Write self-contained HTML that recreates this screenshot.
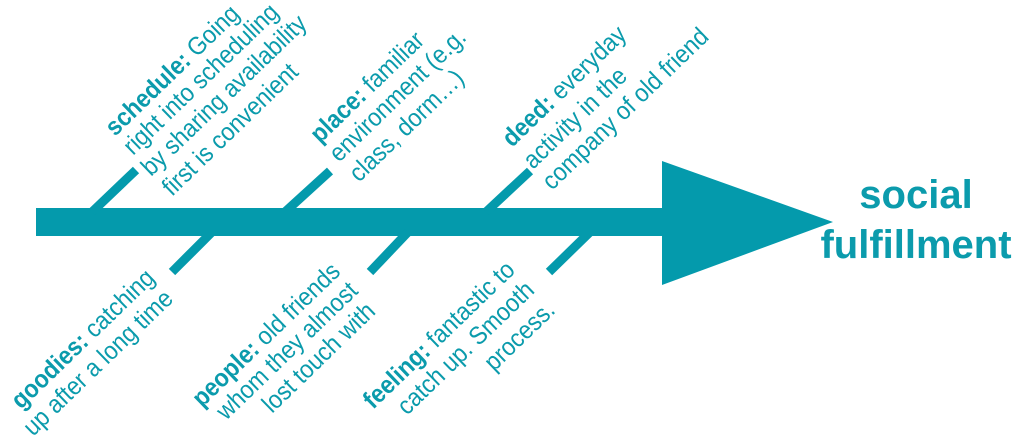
<!DOCTYPE html>
<html><head><meta charset="utf-8"><style>
html,body{margin:0;padding:0;background:#fff;}
svg{display:block;}
text{font-family:"Liberation Sans",Arial,sans-serif;fill:#0B9BAC;}
</style></head><body>
<svg width="1024" height="446" viewBox="0 0 1024 446" xmlns="http://www.w3.org/2000/svg">
<g fill="#049AAC" stroke="none">
<rect x="36" y="208" width="630" height="28"/>
<polygon points="662,161 833,222 662,285"/>
</g>
<g stroke="#049AAC" stroke-width="9" stroke-linecap="butt">
<line x1="92" y1="212" x2="136" y2="170"/>
<line x1="285" y1="212" x2="330" y2="171"/>
<line x1="486" y1="212" x2="530" y2="171"/>
<line x1="212" y1="232" x2="172" y2="272"/>
<line x1="408" y1="232" x2="370" y2="272"/>
<line x1="590" y1="232" x2="549" y2="272"/>
</g>
<g font-size="23">
<text transform="translate(115,137) rotate(-44) scale(1,1.1)"><tspan font-weight="bold">schedule:</tspan> Going</text>
<text transform="translate(133,156) rotate(-44) scale(1,1.1)">right into scheduling</text>
<text transform="translate(151,177) rotate(-44) scale(1,1.1)">by sharing availability</text>
<text transform="translate(172,197) rotate(-44) scale(1,1.1)">first is convenient</text>

<text transform="translate(320,144) rotate(-44) scale(1,1.1)"><tspan font-weight="bold">place:</tspan> familiar</text>
<text transform="translate(339,163) rotate(-44) scale(1,1.1)">environment (e.g.</text>
<text transform="translate(359,183) rotate(-44) scale(1,1.1)">class, dorm…)</text>

<text transform="translate(512,148) rotate(-44) scale(1,1.1)"><tspan font-weight="bold">deed:</tspan> everyday</text>
<text transform="translate(533,170) rotate(-44) scale(1,1.1)">activity in the</text>
<text transform="translate(552,191) rotate(-44) scale(1,1.1)">company of old friend</text>

<text transform="translate(21,410) rotate(-44) scale(1,1.1)"><tspan font-weight="bold">goodies:</tspan> catching</text>
<text transform="translate(33,437) rotate(-44) scale(1,1.1)">up after a long time</text>

<text transform="translate(202,408) rotate(-44) scale(1,1.1)"><tspan font-weight="bold">people:</tspan> old friends</text>
<text transform="translate(226,421) rotate(-44) scale(1,1.1)">whom they almost</text>
<text transform="translate(272,414) rotate(-44) scale(1,1.1)">lost touch with</text>

<text transform="translate(373,410) rotate(-44) scale(1,1.1)"><tspan font-weight="bold">feeling:</tspan> fantastic to</text>
<text transform="translate(407,416) rotate(-44) scale(1,1.1)">catch up. Smooth</text>
<text transform="translate(494,372) rotate(-44) scale(1,1.1)">process.</text>
</g>
<g font-size="40" font-weight="bold" text-anchor="middle">
<text x="916" y="208">social</text>
<text x="916" y="258">fulfillment</text>
</g>
</svg>
</body></html>
